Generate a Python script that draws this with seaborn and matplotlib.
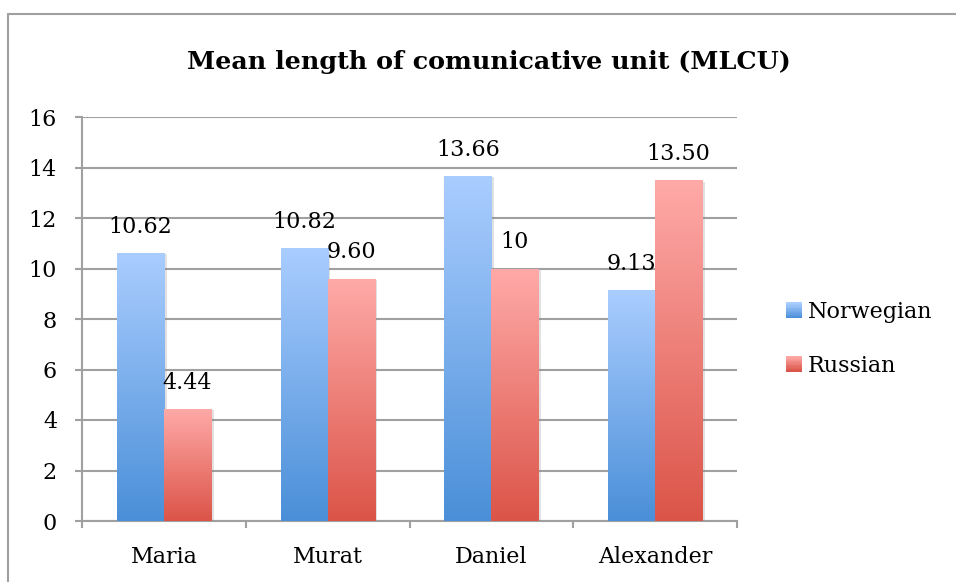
import numpy as np
import pandas as pd
import matplotlib
matplotlib.use("Agg")
import matplotlib.pyplot as plt
import matplotlib.patches as mpatches
from matplotlib.lines import Line2D
from matplotlib.colors import LinearSegmentedColormap
from matplotlib.legend_handler import HandlerPatch
import matplotlib.patheffects as pe
import seaborn as sns

# ---- data ----
children = ["Maria", "Murat", "Daniel", "Alexander"]
norwegian = [10.62, 10.82, 13.66, 9.13]
russian = [4.44, 9.60, 10, 13.50]
norwegian_labels = ["10.62", "10.82", "13.66", "9.13"]
russian_labels = ["4.44", "9.60", "10", "13.50"]
series = ["Norwegian", "Russian"]
y_ticks = [0, 2, 4, 6, 8, 10, 12, 14, 16]
title = "Mean length of comunicative unit (MLCU)"

df = pd.DataFrame({
    "child": children * 2,
    "value": norwegian + russian,
    "lang": [series[0]] * len(children) + [series[1]] * len(children),
})

sns.set_theme(style="white")
plt.rcParams["font.family"] = ["DejaVu Serif"]
plt.rcParams["text.color"] = "black"
plt.rcParams["xtick.labelcolor"] = "black"
plt.rcParams["ytick.labelcolor"] = "black"

W, H, DPI = 956, 582, 100
FS = 16
fig = plt.figure(figsize=(W / DPI, H / DPI), dpi=DPI)
ax = fig.add_axes([82 / W, 1 - 521 / H, (737 - 82) / W, (521 - 117) / H])

grad = {
    "Norwegian": ("#aacdff", "#4a8fd8"),
    "Russian": ("#ffaaa8", "#db5448"),
}
mid = {k: v[1] for k, v in grad.items()}

sns.barplot(data=df, x="child", y="value", hue="lang", order=children,
            hue_order=series, palette=mid, width=0.575, ax=ax,
            legend=False, saturation=1, errorbar=None, zorder=3)

# gradient fills
for cont, name in zip(ax.containers, series):
    top, bot = grad[name]
    cmap = LinearSegmentedColormap.from_list(name, [bot, top])
    for p in cont.patches:
        x0, y0 = p.get_x(), p.get_y()
        w, h = p.get_width(), p.get_height()
        p.set_edgecolor("none")
        p.set_path_effects([pe.SimplePatchShadow(offset=(2, -1), shadow_rgbFace="#888888", alpha=0.25), pe.Normal()])
        img = ax.imshow(np.linspace(0, 1, 256).reshape(-1, 1), cmap=cmap,
                        extent=[x0, x0 + w, y0, y0 + h], origin="lower",
                        aspect="auto", zorder=4, interpolation="bilinear")
        img.set_clip_path(p)
ax.set_xlim(-0.5, len(children) - 0.5)
ax.set_ylim(0, 16)

# value labels
for cont, labs in zip(ax.containers, [norwegian_labels, russian_labels]):
    ax.bar_label(cont, labels=labs, padding=11, fontsize=FS, color="black", zorder=6)

# grid / spines
gc = "#a0a0a0"
ax.set_yticks(y_ticks)
ax.yaxis.grid(True, color=gc, linewidth=1.5, zorder=0)
ax.set_axisbelow(True)
for s in ["top", "right"]:
    ax.spines[s].set_visible(False)
ax.spines["left"].set_color(gc)
ax.spines["left"].set_linewidth(1.5)
ax.spines["bottom"].set_color(gc)
ax.spines["bottom"].set_linewidth(1.5)
ax.tick_params(axis="y", which="major", direction="out", length=5, width=1.5,
               color=gc, labelsize=FS, labelcolor="black", pad=13, left=True)
ax.set_xticks(np.arange(-0.5, len(children), 1.0))
ax.set_xticklabels([])
ax.set_xticks(np.arange(len(children)), minor=True)
ax.set_xticklabels(children, minor=True)
ax.tick_params(axis="x", which="major", direction="out", length=5, width=1.5,
               color=gc, bottom=True)
ax.tick_params(axis="x", which="minor", length=0, labelsize=FS, labelcolor="black", pad=18)
ax.set_xlabel("")
ax.set_ylabel("")


# legend with gradient squares
class GradHandler(HandlerPatch):
    def __init__(self, cols):
        super().__init__()
        self.cols = cols

    def create_artists(self, legend, orig_handle, xdescent, ydescent, width,
                       height, fontsize, trans):
        arts = []
        n = 12
        top, bot = self.cols
        cmap = LinearSegmentedColormap.from_list("g", [bot, top])
        for i in range(n):
            r = mpatches.Rectangle((-xdescent, -ydescent + height * i / n), width,
                                   height / n + 0.3, facecolor=cmap(i / (n - 1)),
                                   edgecolor="none", transform=trans)
            arts.append(r)
        return arts


handles = [mpatches.Patch(label=s) for s in series]
fig.legend(handles=handles, loc="center left", bbox_to_anchor=(786 / W, 1 - 339 / H),
           frameon=False, fontsize=FS, handlelength=0.7, handleheight=0.7,
           handletextpad=0.3, labelspacing=1.4, borderaxespad=0, borderpad=0,
           handler_map={handles[0]: GradHandler(grad[series[0]]),
                        handles[1]: GradHandler(grad[series[1]])})

# title
fig.text(489 / W, 1 - 62 / H, title, ha="center", va="center",
         fontsize=18.3, fontweight="bold", color="black")

# outer frame (top and left edges)
fig.add_artist(Line2D([8 / W, 1.05], [1 - 13.5 / H, 1 - 13.5 / H],
                      transform=fig.transFigure, color=gc, linewidth=1.5))
fig.add_artist(Line2D([8 / W, 8 / W], [-0.05, 1 - 13.5 / H],
                      transform=fig.transFigure, color=gc, linewidth=1.5))

fig.savefig("out.png", dpi=DPI)
